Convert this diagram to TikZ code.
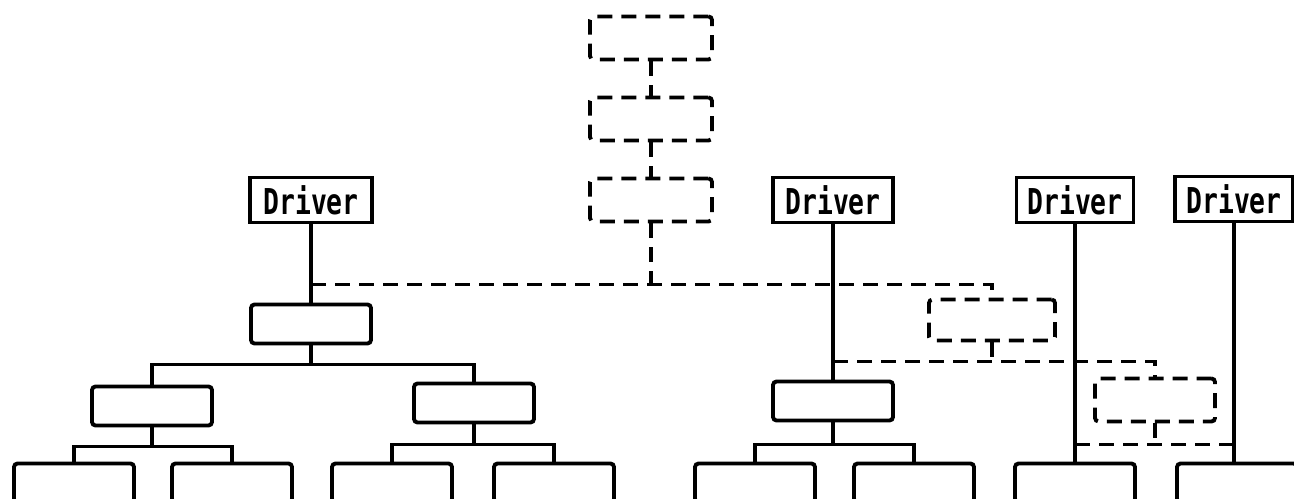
\documentclass[tikz,border=0pt]{standalone}
\usepackage{fontspec}
\usepackage{graphicx}
\usetikzlibrary{calc}
\newfontfamily\drvfont{DejaVu Sans Mono}

\begin{document}
\begin{tikzpicture}[x=0.2mm,y=-0.2mm,line width=2.2pt,
  blk/.style={draw,rounded corners=2pt,minimum width=24mm,minimum height=7.8mm,inner sep=0pt},
  ghost/.style={blk,dash pattern=on 3mm off 1.8mm},
  bus/.style={dash pattern=on 3mm off 1.8mm},
  drv/.style={draw,minimum width=24mm,minimum height=9mm,inner sep=0pt,
    font=\drvfont\bfseries\fontsize{15}{15}\selectfont}]
  \useasboundingbox (0,0) rectangle (1294,499);
  % upper stack
  \node[ghost,minimum width=24.4mm,minimum height=8.6mm] (s1) at (651,38) {};
  \node[ghost,minimum width=24.4mm,minimum height=8.6mm] (s2) at (651,119) {};
  \node[ghost,minimum width=24.4mm,minimum height=8.6mm] (s3) at (651,200) {};
  \draw[bus] (s1) -- (s2);
  \draw[bus] (s2) -- (s3);
  % drivers
  \node[drv,minimum width=24.4mm] (dA) at (311,200) {\scalebox{1}[1.35]{Driver}};
  \node[drv] (dB) at (833,200) {\scalebox{1}[1.35]{Driver}};
  \node[drv,minimum width=23.4mm] (dC) at (1075,200) {\scalebox{1}[1.35]{Driver}};
  \node[drv,minimum width=23.6mm] (dD) at (1234,199) {\scalebox{1}[1.35]{Driver}};
  % left tree
  \node[blk] (L) at (311,324) {};
  \node[blk] (LL) at (152,406) {};
  \node[blk] (LR) at (474,403) {};
  \node[blk] (b1) at (74,483) {};
  \node[blk] (b2) at (232,483) {};
  \node[blk] (b3) at (392,483) {};
  \node[blk] (b4) at (554,483) {};
  \draw (dA) -- (L);
  \draw (L.south) -- ++(0,19) coordinate (jL);
  \draw (jL) -| (LL.north);
  \draw (jL) -| (LR.north);
  \draw (LL.south) -- ++(0,19) coordinate (jLL);
  \draw (jLL) -| (b1.north);
  \draw (jLL) -| (b2.north);
  \draw (LR.south) -- ++(0,20) coordinate (jLR);
  \draw (jLR) -| (b3.north);
  \draw (jLR) -| (b4.north);
  % middle tree
  \node[blk] (M) at (833,401) {};
  \node[blk] (b5) at (755,483) {};
  \node[blk] (b6) at (914,483) {};
  \draw (dB) -- (M);
  \draw (M.south) -- ++(0,22) coordinate (jM);
  \draw (jM) -| (b5.north);
  \draw (jM) -| (b6.north);
  % right side
  \node[blk] (b7) at (1075,483) {};
  \node[blk] (b8) at (1237,483) {};
  \draw (dC) -- (b7);
  \draw (dD.south) -- (dD.south |- b8.north);
  % dashed buses
  \node[ghost,minimum width=25.2mm,minimum height=8.2mm] (R1) at (992,320) {};
  \node[ghost,minimum height=8.6mm] (R2) at (1155,400) {};
  \draw[bus] (s3.south) -- ++(0,61) coordinate (h1);
  \draw[bus] (dA |- h1) -| (R1.north);
  \draw[bus] (R1.south) -- ++(0,19) coordinate (h2);
  \draw[bus] (dB |- h2) -| (R2.north);
  \draw[bus] (R2.south) -- ++(0,21) coordinate (h3);
  \draw[bus] (dC |- h3) -- (dD |- h3);
\end{tikzpicture}
\end{document}
